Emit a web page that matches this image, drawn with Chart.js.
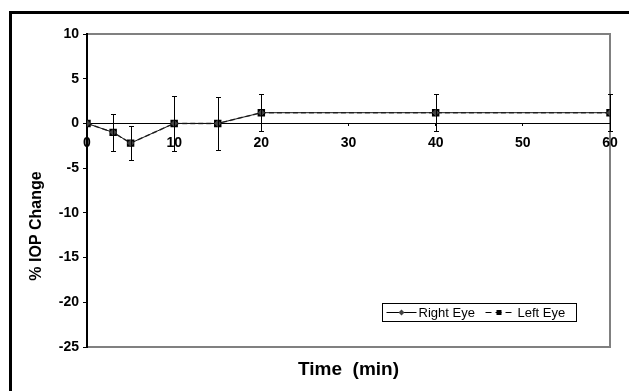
<!DOCTYPE html>
<html>
<head>
<meta charset="utf-8">
<script src="https://cdn.jsdelivr.net/npm/chart.js@4.4.1/dist/chart.umd.min.js"></script>
<style>
  html, body { margin: 0; padding: 0; background: #fff; }
  canvas { display: block; }
</style>
</head>
<body>
<canvas id="grafico" width="629" height="391"></canvas>
<script>
// datos
const minutos = [0, 3, 5, 10, 15, 20, 40, 60];
const ojoDerecho = [0, -1, -2.2, 0, 0, 1.2, 1.2, 1.2];
const ojoIzquierdo = [0, -1, -2.2, 0, 0, 1.2, 1.2, 1.2];
const errorIzq = [0, 2.1, 1.9, 3.05, 3, 2.05, 2.05, 2.05];
const ticksY = [10, 5, 0, -5, -10, -15, -20, -25];
const ticksX = [0, 10, 20, 30, 40, 50, 60];
const tituloX = 'Time  (min)';
const tituloY = '% IOP Change';

const FUENTE = "'Liberation Sans', Arial, sans-serif";

function puntos(xs, ys) { return xs.map((x, i) => ({ x: x, y: ys[i] })); }

// marco exterior + borde gris del area
const marco = {
    id: 'marco',
    beforeDraw(chart) {
        const ctx = chart.ctx, a = chart.chartArea;
        ctx.save();
        ctx.fillStyle = '#fff';
        ctx.fillRect(0, 0, chart.width, chart.height);
        ctx.fillStyle = '#000';
        ctx.fillRect(9, 11, 3, chart.height - 11);
        ctx.fillRect(9, 11, chart.width - 9, 3);
        ctx.strokeStyle = '#808080';
        ctx.lineWidth = 2;
        ctx.strokeRect(a.left, a.top, a.right - a.left, a.bottom - a.top);
        ctx.restore();
    }
};

// barras de error
const barrasError = {
    id: 'barrasError',
    afterDatasetsDraw(chart) {
        const ctx = chart.ctx, sx = chart.scales.x, sy = chart.scales.y;
        ctx.save();
        ctx.strokeStyle = '#000';
        ctx.lineWidth = 1;
        minutos.forEach((m, i) => {
            const e = errorIzq[i];
            if (!e) return;
            const x = Math.round(sx.getPixelForValue(m)) + 0.5;
            const y1 = Math.round(sy.getPixelForValue(ojoIzquierdo[i] + e)) + 0.5;
            const y2 = Math.round(sy.getPixelForValue(ojoIzquierdo[i] - e)) + 0.5;
            ctx.beginPath();
            ctx.moveTo(x, y1); ctx.lineTo(x, y2);
            ctx.moveTo(x - 2.5, y1); ctx.lineTo(x + 2.5, y1);
            ctx.moveTo(x - 2.5, y2); ctx.lineTo(x + 2.5, y2);
            ctx.stroke();
        });
        ctx.restore();
    }
};

// titulos y leyenda
const extras = {
    id: 'extras',
    afterDraw(chart) {
        const ctx = chart.ctx, a = chart.chartArea;
        ctx.save();
        ctx.fillStyle = '#000';
        ctx.textAlign = 'center';
        ctx.textBaseline = 'middle';
        ctx.font = 'bold 19px ' + FUENTE;
        ctx.fillText(tituloX, (a.left + a.right) / 2, 370);
        ctx.translate(37, 226);
        ctx.rotate(-Math.PI / 2);
        ctx.font = 'bold 16px ' + FUENTE;
        ctx.fillText(tituloY, 0, 0);
        ctx.restore();

        // leyenda
        const bx = 382.5, by = 303.5, bw = 194, bh = 18;
        const ds = chart.data.datasets;
        ctx.save();
        ctx.fillStyle = '#fff';
        ctx.fillRect(bx, by, bw, bh);
        ctx.strokeStyle = '#000';
        ctx.lineWidth = 1;
        ctx.strokeRect(bx, by, bw, bh);
        const cy = by + bh / 2;
        ctx.font = '13px ' + FUENTE;
        ctx.textBaseline = 'middle';
        // Right Eye
        ctx.beginPath(); ctx.moveTo(bx + 4, cy); ctx.lineTo(bx + 34, cy); ctx.stroke();
        ctx.fillStyle = '#444';
        ctx.beginPath();
        ctx.moveTo(bx + 19, cy - 3); ctx.lineTo(bx + 22, cy); ctx.lineTo(bx + 19, cy + 3); ctx.lineTo(bx + 16, cy);
        ctx.closePath(); ctx.fill();
        ctx.fillStyle = '#000';
        ctx.fillText(ds[0].label, bx + 36, cy + 1);
        // Left Eye
        ctx.setLineDash([6, 4]);
        ctx.beginPath(); ctx.moveTo(bx + 103, cy); ctx.lineTo(bx + 130, cy); ctx.stroke();
        ctx.setLineDash([]);
        ctx.fillRect(bx + 114, cy - 2.5, 5, 5);
        ctx.fillText(ds[1].label, bx + 135, cy + 1);
        ctx.restore();
    }
};

new Chart(document.getElementById('grafico'), {
    type: 'line',
    data: {
        datasets: [
            {
                label: 'Right Eye',
                data: puntos(minutos, ojoDerecho),
                borderColor: '#111',
                borderWidth: 1,
                pointStyle: 'rectRot',
                pointRadius: 3,
                pointBackgroundColor: '#444',
                pointBorderColor: '#444',
                tension: 0
            },
            {
                label: 'Left Eye',
                data: puntos(minutos, ojoIzquierdo),
                borderColor: '#555',
                borderWidth: 1.5,
                borderDash: [5, 3],
                pointStyle: 'rect',
                pointRadius: 4.2,
                pointBackgroundColor: '#000',
                pointBorderColor: '#000',
                tension: 0
            }
        ]
    },
    options: {
        responsive: false,
        animation: false,
        devicePixelRatio: 1,
        layout: { padding: { top: 34, right: 19, left: 0, bottom: 44 } },
        plugins: {
            legend: { display: false },
            tooltip: { enabled: false }
        },
        scales: {
            x: {
                type: 'linear',
                min: 0, max: 60,
                position: { y: 0 },
                afterBuildTicks: s => { s.ticks = ticksX.map(v => ({ value: v })); },
                ticks: {
                    color: '#000',
                    font: { family: FUENTE, size: 14, weight: 'bold' },
                    padding: 9,
                    maxRotation: 0
                },
                grid: { drawOnChartArea: false, tickLength: 2, color: '#000' },
                border: { color: '#000', width: 1 }
            },
            y: {
                min: -25, max: 10,
                afterBuildTicks: s => { s.ticks = ticksY.map(v => ({ value: v })); },
                afterFit: s => { s.width = 87; },
                ticks: {
                    color: '#000',
                    font: { family: FUENTE, size: 14, weight: 'bold' },
                    padding: 4
                },
                grid: { drawOnChartArea: false, tickLength: 4, color: '#000' },
                border: { color: '#000', width: 2 }
            }
        }
    },
    plugins: [marco, barrasError, extras]
});
</script>
</body>
</html>
